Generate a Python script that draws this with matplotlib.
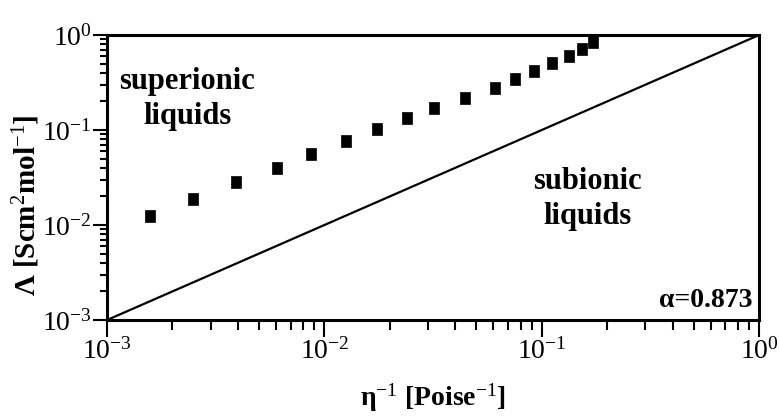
import numpy as np
import matplotlib
matplotlib.use("Agg")
from matplotlib import pyplot as plt
from matplotlib.ticker import LogLocator, LogFormatterMathtext, NullFormatter

# inverse viscosity (Poise^-1) and molar conductivity (S cm^2 mol^-1)
fluidity = [1.58e-3, 2.49e-3, 3.94e-3, 6.04e-3, 8.67e-3, 1.26e-2, 1.75e-2,
            2.39e-2, 3.21e-2, 4.44e-2, 6.09e-2, 7.52e-2, 9.25e-2, 0.111,
            0.134, 0.153, 0.173]
conductivity = [0.0125, 0.0188, 0.0281, 0.0401, 0.0558, 0.0760, 0.1016,
                0.1336, 0.1718, 0.217, 0.277, 0.342, 0.418, 0.504, 0.601,
                0.713, 0.837]

# ideal Walden line
ideal_x = [1e-3, 1.0]
ideal_y = [1e-3, 1.0]

plt.rcParams["font.family"] = ["Liberation Serif", "DejaVu Serif"]
plt.rcParams["mathtext.fontset"] = "custom"
plt.rcParams["mathtext.rm"] = "Liberation Serif"
plt.rcParams["mathtext.it"] = "Liberation Serif:italic"
plt.rcParams["mathtext.bf"] = "Liberation Serif:bold"

fig = plt.figure(figsize=(7.79, 4.18), dpi=100)
ax = fig.add_axes([0.1374, 0.2344, 0.837, 0.6818])

ax.plot(ideal_x, ideal_y, color="black", lw=1.6)
square = [(-0.8, -1), (0.8, -1), (0.8, 1), (-0.8, 1), (-0.8, -1)]
ax.plot(fluidity, conductivity, ls="none", marker=square, ms=8.5,
        color="black", mew=0.5, clip_on=False)

ax.set_xscale("log")
ax.set_yscale("log")
ax.set_xlim(1e-3, 1)
ax.set_ylim(1e-3, 1)

for axis in (ax.xaxis, ax.yaxis):
    axis.set_major_locator(LogLocator(base=10))
    axis.set_minor_locator(LogLocator(base=10, subs=np.arange(2, 10)))
    axis.set_major_formatter(LogFormatterMathtext())
    axis.set_minor_formatter(NullFormatter())

ax.tick_params(which="both", direction="out", top=False, right=False,
               width=1.5, labelsize=20, pad=1)
ax.tick_params(axis="x", which="major", length=12)
ax.tick_params(axis="x", which="minor", length=7)
ax.tick_params(axis="y", which="major", length=10)
ax.tick_params(axis="y", which="minor", length=5)
for sp in ax.spines.values():
    sp.set_linewidth(2.2)

ax.set_xlabel(r"η$^{-1}$ [Poise$^{-1}$]", fontsize=20, fontweight="bold")
ax.set_ylabel(r"Λ [Scm$^{2}$mol$^{-1}$]", fontsize=21, fontweight="bold")
ax.xaxis.set_label_coords(0.5, -0.215)
ax.yaxis.set_label_coords(-0.099, 0.404)

ax.text(0.123, 0.775, "superionic\nliquids", transform=ax.transAxes,
        ha="center", va="center", fontsize=22, fontweight="bold",
        linespacing=1.25)
ax.text(0.737, 0.425, "subionic\nliquids", transform=ax.transAxes,
        ha="center", va="center", fontsize=22, fontweight="bold",
        linespacing=1.25)
ax.text(0.99, 0.025, "α=0.873", transform=ax.transAxes,
        ha="right", va="bottom", fontsize=20, fontweight="bold")

fig.savefig("out.png", dpi=100)
